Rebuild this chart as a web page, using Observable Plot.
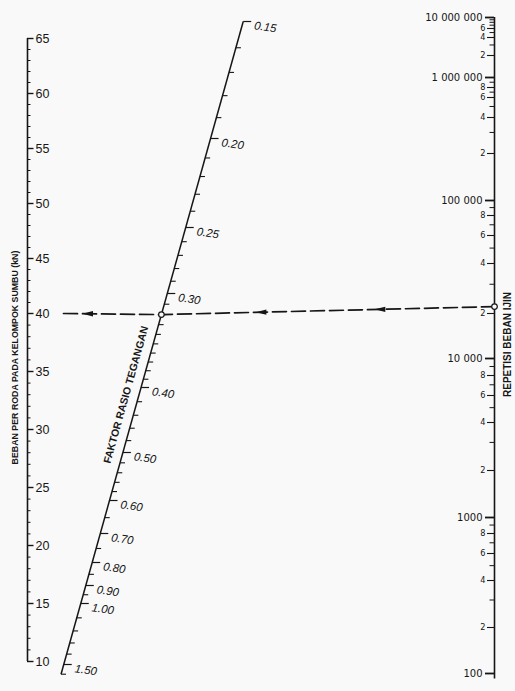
<!DOCTYPE html>
<html><head><meta charset="utf-8">
<script src="https://cdn.jsdelivr.net/npm/d3@7"></script>
<script src="https://cdn.jsdelivr.net/npm/@observablehq/plot@0.6"></script>
<style>
html,body{margin:0;padding:0;background:#f9f9f9;}
#chart svg{display:block;}
</style></head><body><div id="chart"></div>
<script>
// ---------- data ----------
const loadLabels = [10, 15, 20, 25, 30, 35, 40, 45, 50, 55, 60, 65];
const loadMinor = d3.range(10, 66, 1);

const ratioLabels = [0.15, 0.20, 0.25, 0.30, 0.40, 0.50, 0.60, 0.70, 0.80, 0.90, 1.00, 1.50];
const ratioText = ["0.15", "0.20", "0.25", "0.30", "0.40", "0.50", "0.60", "0.70", "0.80", "0.90", "1.00", "1.50"];
const ratioMinor = [0.16, 0.17, 0.18, 0.19, 0.21, 0.22, 0.23, 0.24, 0.26, 0.27, 0.28, 0.29,
  0.31, 0.32, 0.33, 0.34, 0.35, 0.36, 0.37, 0.38, 0.39, 0.42, 0.44, 0.46, 0.48,
  0.52, 0.54, 0.56, 0.58, 0.65, 0.75, 0.85, 0.95, 1.1, 1.2, 1.3, 1.4, 1.6];

const repMajor = [100, 1000, 10000, 100000, 1000000, 10000000];
const repMajorText = ["100", "1000", "10 000", "100 000", "1 000 000", "10 000 000"];
const repMinorLabelled = [200, 400, 600, 800, 2000, 4000, 6000, 8000, 20000, 40000, 60000, 80000,
  200000, 400000, 600000, 800000, 2000000, 4000000, 6000000];
const repMinorText = ["2", "4", "6", "8", "2", "4", "6", "8", "2", "4", "6", "8",
  "2", "4", "6", "8", "2", "4", "6"];
const repMinor = [300, 500, 700, 900, 3000, 5000, 7000, 9000, 30000, 50000, 70000, 90000,
  300000, 500000, 700000, 900000, 3000000, 5000000, 7000000, 8000000, 9000000];

// worked example
const exampleLoad = 40;
const exampleRatio = 0.32;
const exampleReps = 22000;

const titleLoad = "BEBAN PER RODA PADA KELOMPOK SUMBU (kN)";
const titleRatio = "FAKTOR RASIO TEGANGAN";
const titleReps = "REPETISI BEBAN IJIN";

// ---------- nomograph calibration (scale definitions) ----------
const LOAD_DOMAIN = [10, 40, 65], LOAD_RANGE = [661, 313, 38];
const RATIO_PX = [21, 138, 227, 293, 387, 452, 500, 533, 562, 585, 603, 664];
const REP_STOPS = [100, 200, 400, 600, 800, 1000, 2000, 4000, 6000, 8000, 10000, 20000, 40000, 60000, 80000,
  100000, 200000, 400000, 600000, 800000, 1000000, 2000000, 4000000, 6000000, 10000000];
const REP_PX = [673, 627, 580, 553, 533, 517, 470, 422, 395, 375, 358, 313, 263, 235, 215,
  200, 153, 117, 97, 87, 77, 55, 37, 28, 17];
const LX = 27, RX = 494, DIAG_TOP = [243, 20], DIAG_BOT = [61, 672];

const pxToLoad = d3.scaleLinear(LOAD_RANGE, LOAD_DOMAIN);
const ratioPx = d3.scaleLog(ratioLabels, RATIO_PX);
const repPx = d3.scaleLog(REP_STOPS, REP_PX);
const diagX = py => DIAG_TOP[0] + (py - DIAG_TOP[1]) * (DIAG_BOT[0] - DIAG_TOP[0]) / (DIAG_BOT[1] - DIAG_TOP[1]);
const rY = r => pxToLoad(ratioPx(r));
const rX = r => diagX(ratioPx(r));
const nY = n => pxToLoad(repPx(n));
const diagAngle = Math.atan2(DIAG_TOP[1] - DIAG_BOT[1], DIAG_TOP[0] - DIAG_BOT[0]) * 180 / Math.PI;

const ink = "#161616", bg = "#f9f9f9";
const sans = "Liberation Sans, Arial, sans-serif";

const path = [
  {x: LX + 36, y: exampleLoad},
  {x: rX(exampleRatio), y: rY(exampleRatio)},
  {x: RX, y: nY(exampleReps)}
];
const along = (a, b, t) => ({x: a.x + (b.x - a.x) * t, y: a.y + (b.y - a.y) * t});
const arrows = [along(path[0], path[1], 0.25), along(path[1], path[2], 0.30), along(path[1], path[2], 0.657)];
const arrowSymbol = {
  draw(ctx, size) {
    const r = Math.sqrt(size / Math.PI);
    ctx.moveTo(-1.6 * r, 0);
    ctx.lineTo(1.4 * r, -0.75 * r);
    ctx.lineTo(1.4 * r, 0.75 * r);
    ctx.closePath();
  }
};

const chart = Plot.plot({
  width: 515, height: 691, margin: 0,
  x: {type: "linear", domain: [0, 515], range: [0, 515], axis: null},
  y: {type: "linear", domain: LOAD_DOMAIN, range: LOAD_RANGE, axis: null},
  style: {background: "transparent", color: ink},
  marks: [
    // left axis (load)
    Plot.ruleX([LX], {x: d => d, y1: 10, y2: 65, stroke: ink, strokeWidth: 1.6}),
    Plot.ruleY(loadMinor, {y: d => d, x1: LX, x2: LX + 3.5, stroke: ink, strokeWidth: 1}),
    Plot.ruleY(loadLabels, {y: d => d, x1: LX, x2: LX + 6.5, stroke: ink, strokeWidth: 1.4}),
    Plot.text(loadLabels, {y: d => d, x: LX + 8, text: d => String(d), textAnchor: "start",
      fontSize: 12.5, fontFamily: sans, fill: ink}),
    Plot.text([titleLoad], {x: 15, y: pxToLoad(357), text: d => d, rotate: -90, fontSize: 8.8,
      fontWeight: "bold", fontFamily: "Liberation Sans Narrow, Liberation Sans, sans-serif", fill: ink}),

    // diagonal axis (stress ratio)
    Plot.link([[0.15, 1.6]], {x1: d => rX(d[0]), y1: d => rY(d[0]), x2: d => rX(d[1]), y2: d => rY(d[1]),
      stroke: ink, strokeWidth: 1.5}),
    Plot.link(ratioMinor, {x1: rX, y1: rY, x2: r => rX(r) + 5, y2: rY, stroke: ink, strokeWidth: 1.1}),
    Plot.link(ratioLabels, {x1: rX, y1: rY, x2: r => rX(r) + 8, y2: rY, stroke: ink, strokeWidth: 1.2}),
    Plot.text(ratioLabels, {x: r => rX(r) + 11, y: rY, dy: 4, text: (d, i) => ratioText[i],
      textAnchor: "start", rotate: 8, fontSize: 11.5, fontStyle: "italic", fontFamily: sans, fill: ink}),
    Plot.text([titleRatio], {x: rX(0.41) - 13, y: rY(0.41), text: d => d, rotate: diagAngle,
      fontSize: 10.5, fontWeight: 600, fontFamily: sans, fill: ink}),

    // right axis (repetitions)
    Plot.ruleX([RX], {x: d => d, y1: nY(10000000), y2: nY(92), stroke: ink, strokeWidth: 1.6}),
    Plot.ruleY(repMinor, {y: nY, x1: RX - 4.5, x2: RX, stroke: ink, strokeWidth: 1}),
    Plot.ruleY(repMinorLabelled, {y: nY, x1: RX - 7, x2: RX, stroke: ink, strokeWidth: 1.1}),
    Plot.ruleY(repMajor, {y: nY, x1: RX - 9, x2: RX, stroke: ink, strokeWidth: 1.8}),
    Plot.text(repMajor, {y: nY, x: RX - 12, text: (d, i) => repMajorText[i], textAnchor: "end",
      fontSize: 10, fontFamily: "DejaVu Sans, sans-serif", fill: ink}),
    Plot.text(repMinorLabelled, {y: nY, x: RX - 9, text: (d, i) => repMinorText[i], textAnchor: "end",
      fontSize: 8.2, fontFamily: "DejaVu Sans, sans-serif", fill: ink}),
    Plot.text([titleReps], {x: 507, y: pxToLoad(344), text: d => d, rotate: -90, fontSize: 10,
      fontWeight: "bold", fontFamily: "Liberation Sans Narrow, Liberation Sans, sans-serif", fill: ink}),

    // worked example
    Plot.line(path, {x: "x", y: "y", stroke: ink, strokeWidth: 1.7, strokeDasharray: "14,5"}),
    Plot.dot(arrows, {x: "x", y: "y", r: 3.6, symbol: arrowSymbol, fill: ink, stroke: null}),
    Plot.dot(path.slice(1), {x: "x", y: "y", r: 2.8, fill: bg, stroke: ink, strokeWidth: 1.2})
  ]
});
document.getElementById("chart").appendChild(chart);
</script>
</body></html>
